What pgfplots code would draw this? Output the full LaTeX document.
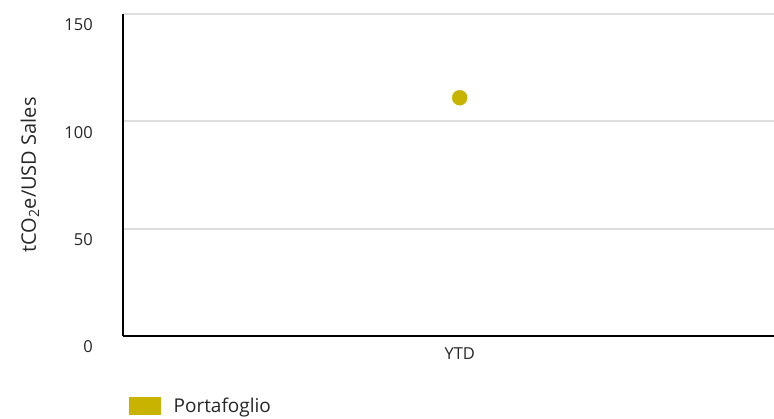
\documentclass[border=0pt]{standalone}
\usepackage{pgfplots}
\pgfplotsset{compat=1.18}
\usepackage{fontspec}
\setmainfont{Open Sans}
\definecolor{ptcol}{RGB}{200,180,0}
\definecolor{gridc}{RGB}{222,222,222}
\begin{document}
\begin{tikzpicture}
\path[use as bounding box] (0pt,0pt) rectangle (774pt,419pt);
\begin{axis}[
  at={(123pt,83pt)}, anchor=south west,
  scale only axis, width=651pt, height=322pt,
  xmin=-0.5, xmax=0.4667, ymin=0, ymax=150,
  axis x line=bottom, axis y line=left,
  axis line style={-, line width=1.5pt, black},
  xtick={0}, xticklabels={YTD},
  ytick={0,50,100,150},
  major tick length=0pt,
  ymajorgrids, major grid style={gridc, line width=1.8pt},
  tick label style={font=\fontsize{16.5}{19}\selectfont, text=black!85},
  /pgf/number format/assume math mode=true,
  yticklabel style={inner sep=0pt, anchor=east, xshift=-30pt, yshift=-11pt},
  xticklabel style={inner sep=0pt, anchor=center, yshift=-18pt},
  ylabel={tCO\textsubscript{2}e/USD Sales},
  ylabel style={at={(axis description cs:-0.143,0.5)}, anchor=center, font=\fontsize{20}{24}\selectfont, text=black!85},
  legend style={at={(axis description cs:0.0092,-0.217)}, anchor=west, draw=none, fill=none, inner sep=0pt, font=\fontsize{19}{22}\selectfont, text=black!85,
    nodes={inner sep=0pt}, /tikz/every odd column/.style={column sep=13pt}},
  legend image code/.code={\fill[ptcol] (0pt,-8.5pt) rectangle (31pt,8.5pt);},
  clip=false,
]
\addplot[only marks, mark=*, mark size=7.5pt, color=ptcol, mark options={draw=ptcol, fill=ptcol}] coordinates {(0,111)};
\addlegendentry{Portafoglio}
\end{axis}
\end{tikzpicture}
\end{document}
